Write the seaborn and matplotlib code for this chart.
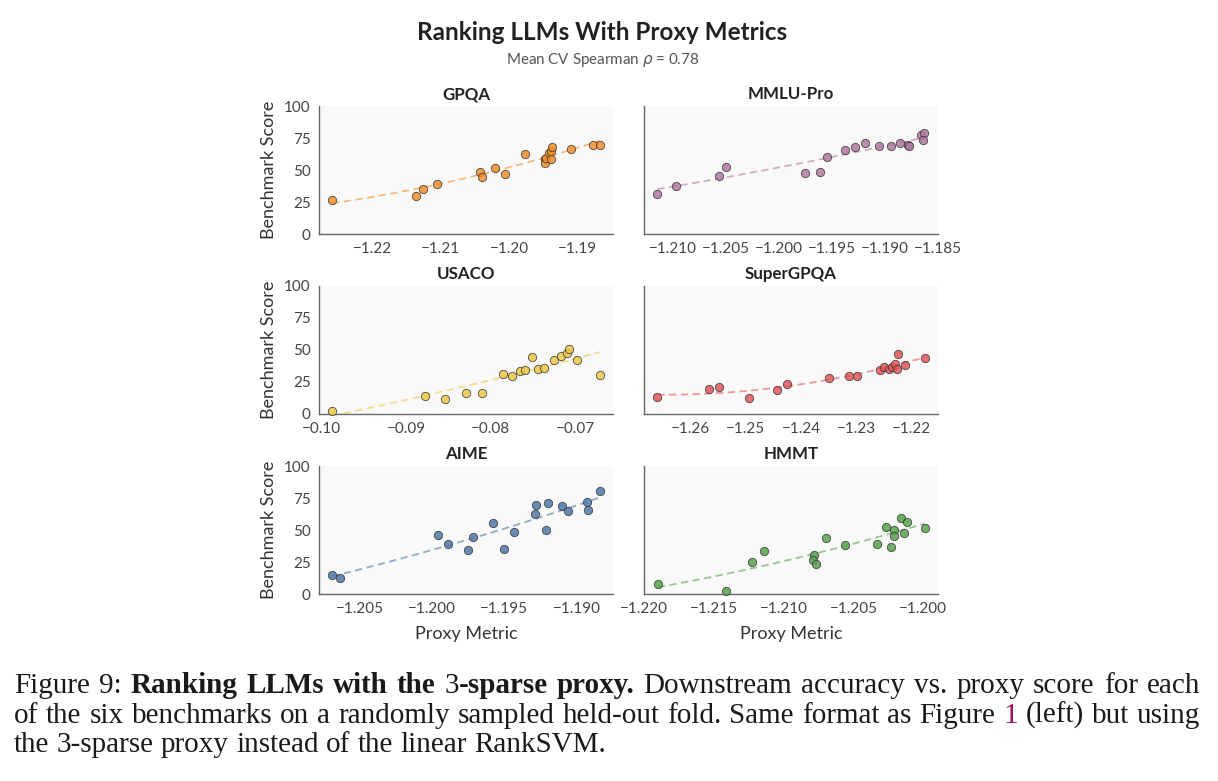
import pandas as pd
import matplotlib.pyplot as plt
import seaborn as sns

# benchmark names and their colours (Tableau 10)
benchmarks = ['GPQA', 'MMLU-Pro', 'USACO', 'SuperGPQA', 'AIME', 'HMMT']
colors = ['#F28E2B', '#B07AA1', '#EDC948', '#E15759', '#4E79A7', '#59A14F']

# proxy metric (x) and benchmark score (y)
gpqa_x = [-1.2259, -1.2137, -1.2126, -1.2105, -1.2043, -1.2040, -1.2021, -1.2006, -1.1976,
          -1.1947, -1.1947, -1.1945, -1.1941, -1.1939, -1.1938, -1.1937, -1.1909, -1.1877, -1.1867]
gpqa_y = [26.6, 29.7, 35.4, 39.1, 48.4, 44.5, 51.3, 46.6, 62.5,
          58.6, 55.2, 59.4, 63.5, 58.3, 65.1, 67.7, 66.4, 69.3, 69.3]

mmlu_x = [-1.2115, -1.2097, -1.2057, -1.2050, -1.1976, -1.1961, -1.1955, -1.1938, -1.1928,
          -1.1919, -1.1906, -1.1894, -1.1886, -1.1878, -1.1877, -1.1866, -1.1863, -1.1864]
mmlu_y = [31.5, 37.2, 45.6, 52.6, 47.9, 48.7, 59.9, 65.9, 68.0,
          71.1, 68.8, 68.5, 70.8, 69.8, 69.0, 77.3, 78.9, 73.4]

usaco_x = [-0.0987, -0.0878, -0.0854, -0.0829, -0.0810, -0.0785, -0.0775, -0.0765, -0.0759,
           -0.0751, -0.0744, -0.0737, -0.0725, -0.0717, -0.0710, -0.0707, -0.0698, -0.0671]
usaco_y = [2.6, 13.8, 12.0, 16.4, 16.7, 31.0, 29.4, 33.3, 34.6,
           44.5, 35.4, 36.2, 42.4, 45.3, 47.7, 50.5, 42.4, 30.5]

super_x = [-1.2660, -1.2566, -1.2548, -1.2494, -1.2444, -1.2426, -1.2350, -1.2313, -1.2298,
           -1.2256, -1.2249, -1.2241, -1.2236, -1.2230, -1.2226, -1.2225, -1.2212, -1.2176]
super_y = [13.0, 19.3, 20.8, 12.2, 18.8, 23.2, 27.9, 29.4, 29.9,
           34.4, 37.0, 35.4, 36.5, 39.1, 35.2, 46.9, 38.0, 43.5]

aime_x = [-1.2069, -1.2064, -1.1996, -1.1989, -1.1975, -1.1972, -1.1958, -1.1950, -1.1943,
          -1.1929, -1.1928, -1.1921, -1.1920, -1.1910, -1.1906, -1.1893, -1.1892, -1.1884]
aime_y = [14.6, 12.5, 46.4, 38.8, 34.1, 44.8, 55.7, 35.4, 48.2,
          62.2, 69.5, 49.7, 71.4, 68.8, 64.8, 71.6, 65.4, 80.5]

hmmt_x = [-1.2190, -1.2141, -1.2123, -1.2114, -1.2078, -1.2079, -1.2077, -1.2070, -1.2056,
          -1.2033, -1.2027, -1.2023, -1.2021, -1.2021, -1.2016, -1.2014, -1.2012, -1.1999]
hmmt_y = [7.6, 2.6, 24.7, 33.6, 30.2, 26.6, 23.2, 43.8, 38.0,
          39.1, 52.1, 37.0, 50.0, 45.6, 59.1, 47.7, 56.0, 51.6]

xs = [gpqa_x, mmlu_x, usaco_x, super_x, aime_x, hmmt_x]
ys = [gpqa_y, mmlu_y, usaco_y, super_y, aime_y, hmmt_y]

xticks = [[-1.22, -1.21, -1.20, -1.19],
          [-1.210, -1.205, -1.200, -1.195, -1.190, -1.185],
          [-0.10, -0.09, -0.08, -0.07],
          [-1.26, -1.25, -1.24, -1.23, -1.22],
          [-1.205, -1.200, -1.195, -1.190],
          [-1.220, -1.215, -1.210, -1.205, -1.200]]
xfmt = ['{:.2f}', '{:.3f}', '{:.2f}', '{:.2f}', '{:.3f}', '{:.3f}']
yticks = [0, 25, 50, 75, 100]

rows = []
for name, x, y in zip(benchmarks, xs, ys):
    for a, b in zip(x, y):
        rows.append({'benchmark': name, 'proxy': a, 'score': b})
df = pd.DataFrame(rows)

sns.set_theme(style='white')
plt.rcParams['font.family'] = ['Lato', 'DejaVu Sans']

W, H = 1218, 781
fig = plt.figure(figsize=(W / 100, H / 100), dpi=100)

lefts = [319, 644]
tops = [106, 286, 466]
aw, ah = 294, 128

for i, name in enumerate(benchmarks):
    r, c = divmod(i, 2)
    ax = fig.add_axes([lefts[c] / W, 1 - (tops[r] + ah) / H, aw / W, ah / H])
    ax.set_facecolor('#f9f9f9')
    sub = df[df['benchmark'] == name]
    col = colors[i]

    # quadratic trend (dashed) under the points
    sns.regplot(data=sub, x='proxy', y='score', order=2, ci=None, scatter=False, ax=ax,
                line_kws=dict(color=col, ls=(0, (4, 2.5)), lw=1.3, alpha=0.6))
    sns.scatterplot(data=sub, x='proxy', y='score', ax=ax, color=col, s=36,
                    edgecolor='#333333', linewidth=0.6, alpha=0.85, zorder=3, clip_on=False)

    ax.set_ylim(0, 100)
    ax.set_yticks(yticks)
    ax.set_xticks(xticks[i])
    ax.set_xticklabels([xfmt[i].format(v).replace('-', '\u2212') for v in xticks[i]])
    ax.tick_params(length=0, pad=6, labelsize=11, labelcolor='#444444')
    for s in ['top', 'right']:
        ax.spines[s].set_visible(False)
    for s in ['left', 'bottom']:
        ax.spines[s].set_color('#666666')
        ax.spines[s].set_linewidth(1.0)
    ax.set_title(name, fontsize=12.2, fontweight='bold', color='#222222', pad=5)

    ax.set_xlabel('Proxy Metric' if r == 2 else '', fontsize=13, color='#333333', labelpad=7)
    if c == 0:
        ax.set_ylabel('Benchmark Score', fontsize=13, color='#333333', labelpad=5)
    else:
        ax.set_ylabel('')
        ax.set_yticklabels([])

fig.text(602.5 / W, 1 - 33 / H, 'Ranking LLMs With Proxy Metrics', ha='center', va='center',
         fontsize=17.5, fontweight='bold', color='#222222')
fig.text(603 / W, 1 - 60 / H, r'Mean CV Spearman $\rho$ = 0.78', ha='center', va='center',
         fontsize=10.9, color='#555555')

# caption below the figure, justified like the paper text
serif = ['Liberation Serif', 'DejaVu Serif']
cap_size = 21
line1 = [('Figure', 'normal', 'k', True), ('9:', 'normal', 'k', True),
         ('Ranking', 'bold', 'k', True), ('LLMs', 'bold', 'k', True), ('with', 'bold', 'k', True),
         ('the', 'bold', 'k', True), ('3', 'normal', 'k', False), ('-sparse', 'bold', 'k', True),
         ('proxy.', 'bold', 'k', True)] + \
        [(w, 'normal', 'k', True) for w in 'Downstream accuracy vs. proxy score for each'.split()]
line2 = [(w, 'normal', 'k', True) for w in
         'of the six benchmarks on a randomly sampled held-out fold. Same format as Figure'.split()] + \
        [('1', 'normal', '#A0105A', True)] + \
        [(w, 'normal', 'k', True) for w in '(left) but using'.split()]
line3 = [(w, 'normal', 'k', True) for w in
         'the 3-sparse proxy instead of the linear RankSVM.'.split()]

renderer = fig.canvas.get_renderer()


def text_width(t):
    return t.get_window_extent(renderer).width


def draw_line(tokens, baseline, x0=14, x1=1200, justify=True):
    texts = []
    for word, weight, color, _ in tokens:
        t = fig.text(0, 1 - baseline / H, word, fontsize=cap_size, fontweight=weight,
                     color=color, family=serif, va='baseline', ha='left')
        texts.append(t)
    widths = [text_width(t) for t in texts]
    probe = fig.text(0, 0, 'a a', fontsize=cap_size, family=serif)
    probe2 = fig.text(0, 0, 'aa', fontsize=cap_size, family=serif)
    space = text_width(probe) - text_width(probe2)
    probe.remove()
    probe2.remove()
    ngaps = sum(1 for tok in tokens[:-1] if tok[3])
    if justify and ngaps:
        gap = (x1 - x0 - sum(widths)) / ngaps
    else:
        gap = space
    x = x0
    for t, w, tok in zip(texts, widths, tokens):
        t.set_x(x / W)
        x += w + (gap if tok[3] else 0)


draw_line(line1, 693)
draw_line(line2, 723)
draw_line(line3, 752, justify=False)

fig.savefig('out.png', dpi=100)
